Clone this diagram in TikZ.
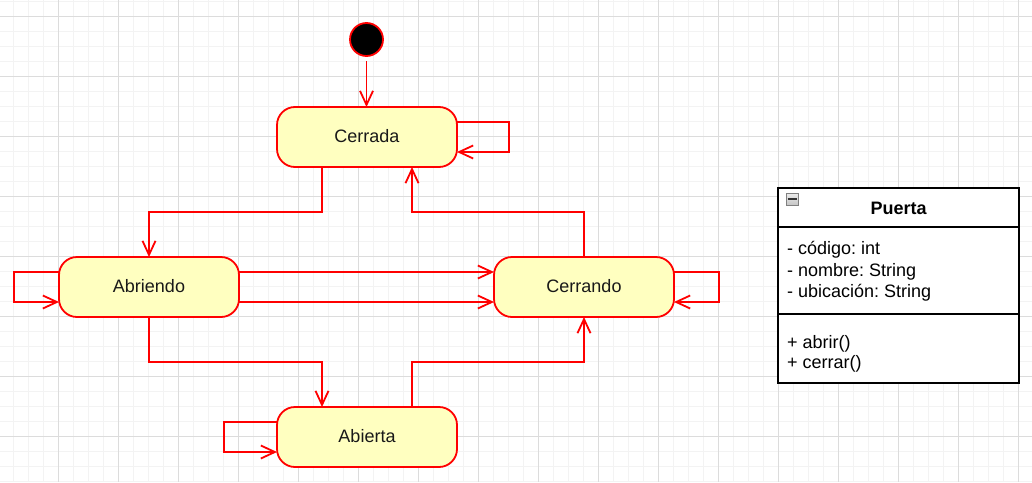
\documentclass[tikz,border=0pt]{standalone}
\usepackage{fontspec}
\setmainfont{Liberation Sans}
\frenchspacing
\usetikzlibrary{arrows.meta,calc}
\definecolor{statefill}{HTML}{FFFFC0}
\definecolor{statered}{HTML}{FF0000}
\definecolor{gridminor}{HTML}{F3F3F3}
\definecolor{gridmajor}{HTML}{DCDCDC}
\tikzset{
  statebox/.style={rectangle, rounded corners=18pt, draw=statered, fill=statefill,
    line width=1.8pt, minimum width=180pt, minimum height=60pt, inner sep=0pt, outer sep=0pt,
    text height=13pt, text depth=2pt, font=\fontsize{18}{22}\selectfont, text=black!90},
  edge/.style={draw=statered, line width=1.8pt, miter limit=10,
    -{Straight Barb[length=14pt,width=13pt]}},
  classtext/.style={anchor=base west, inner sep=0pt, font=\fontsize{18}{22}\selectfont},
  minorline/.style={gridminor, line width=1pt},
  majorline/.style={gridmajor, line width=1pt},
}
\begin{document}
\begin{tikzpicture}[x=1pt,y=-1pt]
\useasboundingbox (0,0) rectangle (1032,482);
\fill[white] (0,0) rectangle (1032,482);
% grid
\foreach \i in {0,...,68} {\draw[minorline] ({13+15*\i},0) -- ({13+15*\i},482);}
\foreach \j in {0,...,32} {\draw[minorline] (0,{1+15*\j}) -- (1032,{1+15*\j});}
\foreach \i in {0,...,16} {\draw[majorline] ({58+60*\i},0) -- ({58+60*\i},482);}
\foreach \j in {0,...,7} {\draw[majorline] (0,{16+60*\j}) -- (1032,{16+60*\j});}

% initial state
\node[circle, fill=black, draw=statered, line width=1.8pt, minimum size=33pt, inner sep=0pt, outer sep=0pt] (init) at (366.5,39.5) {};

% states
\node[statebox] (cerrada) at (367,137) {Cerrada};
\node[statebox] (abriendo) at (149,287) {Abriendo};
\node[statebox] (cerrando) at (584,287) {Cerrando};
\node[statebox] (abierta) at (367,437) {Abierta};

% bend levels
\coordinate (h1) at (0,212);
\coordinate (h2) at (0,362);

% transitions
\draw[edge, shorten <=5pt] (init.south) -- (init.south |- cerrada.north);
\draw[edge] ([xshift=-45pt]cerrada.south) -- ([xshift=-45pt]cerrada.south |- h1) -| (abriendo.north);
\draw[edge] (cerrando.north) -- (cerrando.north |- h1) -| ([xshift=45pt]cerrada.south);
\draw[edge] ([yshift=15pt]abriendo.east) -- ([yshift=15pt]cerrando.west);
\draw[edge] ([yshift=-15pt]abriendo.east) -- ([yshift=-15pt]cerrando.west);
\draw[edge] (abriendo.south) -- (abriendo.south |- h2) -| ([xshift=-45pt]abierta.north);
\draw[edge] ([xshift=45pt]abierta.north) -- ([xshift=45pt]abierta.north |- h2) -| (cerrando.south);
% self loops
\draw[edge] ([yshift=15pt]cerrada.east) -- ++(52,0) |- ([yshift=-15pt]cerrada.east);
\draw[edge] ([yshift=15pt]abriendo.west) -- ++(-45,0) |- ([yshift=-15pt]abriendo.west);
\draw[edge] ([yshift=15pt]cerrando.east) -- ++(45,0) |- ([yshift=-15pt]cerrando.east);
\draw[edge] ([yshift=15pt]abierta.west) -- ++(-53,0) |- ([yshift=-15pt]abierta.west);

% class box
\node[draw=black, fill=white, line width=1.8pt, minimum width=241pt, minimum height=194.4pt,
      inner sep=0pt, outer sep=0pt, anchor=north west] (cls) at (778.3,188.3) {};
\coordinate (d1) at (0,226.7);
\coordinate (d2) at (0,314.3);
\draw[line width=1.8pt] (cls.west |- d1) -- (cls.east |- d1);
\draw[line width=1.8pt] (cls.west |- d2) -- (cls.east |- d2);
\node[draw=gray, top color=gray!15, bottom color=gray!45, minimum size=12pt, inner sep=0pt] (icon) at (792,199) {};
\draw[line width=1.8pt, black!80] ([xshift=-4.5pt]icon.center) -- ([xshift=4.5pt]icon.center);
\node[font=\fontsize{18}{22}\selectfont\bfseries, inner sep=0pt] (title) at (898.7,208.5) {Puerta};
\node[classtext] (a1) at (787,254) {- código: int};
\node[classtext] (a2) at (787,276) {- nombre: String};
\node[classtext] (a3) at (787,297) {- ubicación: String};
\node[classtext] (m1) at (787,348) {+ abrir()};
\node[classtext] (m2) at (787,368) {+ cerrar()};
\end{tikzpicture}
\end{document}
